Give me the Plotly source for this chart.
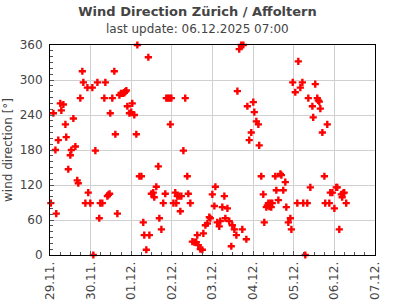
import pandas as pd
import plotly.graph_objects as go

# hours after 29.11.2025 00:00 and wind direction in degrees
hours = [0.5, 2.0, 3.2, 3.7, 4.9, 6.1, 6.7, 7.9, 9.1, 9.6, 10.8, 12.0, 12.6, 13.8, 15.0, 16.1, 16.7, 17.9,
         19.1, 19.7, 20.9, 22.1, 22.6, 23.8, 25.0, 25.6, 26.8, 28.0, 29.1, 29.7, 30.9, 32.1, 32.7, 33.9,
         34.5, 35.2, 35.6, 36.8, 38.0, 38.6, 39.8, 41.0, 41.9, 43.1, 43.9, 44.5, 45.1, 45.7, 46.9, 48.0,
         48.6, 49.8, 51.0, 51.6, 52.8, 54.0, 55.1, 55.7, 56.9, 58.1, 58.7, 59.9, 61.0, 61.6, 62.8, 64.0,
         64.6, 65.8, 66.9, 68.1, 68.7, 69.7, 70.7, 71.1, 71.7, 72.9, 74.0, 74.6, 75.2, 76.4, 77.0, 77.6,
         78.8, 79.9, 81.1, 81.7, 82.9, 84.1, 85.3, 86.4, 87.0, 87.6, 88.8, 90.0, 90.6, 91.8, 93.0, 94.1,
         94.7, 95.9, 97.1, 97.7, 98.8, 100.0, 100.6, 101.8, 103.0, 103.6, 104.8, 105.9, 107.1, 107.7,
         108.9, 110.1, 110.7, 111.8, 113.0, 113.6, 114.2, 116.0, 116.6, 117.7, 118.9, 120.1, 120.7,
         121.9, 123.1, 123.6, 124.8, 126.0, 126.6, 127.8, 128.4, 129.0, 129.6, 130.2, 130.7, 131.3,
         133.1, 133.7, 134.9, 136.1, 136.7, 137.8, 139.0, 139.6, 140.8, 142.0, 142.6, 143.4, 144.9,
         146.1, 146.7, 147.9, 149.1, 149.6, 150.8, 152.0, 152.6, 153.8, 155.0, 155.5, 156.7, 157.9,
         158.5, 159.1, 159.7, 160.9, 162.1, 162.6, 163.8, 165.0, 165.6, 166.8, 168.0, 169.1, 169.7,
         170.9, 172.1, 172.6, 173.2, 173.8, 175.0]
direction = [89, 243, 180, 71, 197, 260, 248, 258, 224, 202, 147, 171, 180, 234, 186, 128, 123, 269,
             315, 296, 89, 287, 107, 89, 287, 0, 179, 296, 63, 89, 89, 269, 296, 101,
             103, 105, 243, 269, 315, 207, 71, 274, 277, 277, 278, 280, 282, 255, 243, 245,
             260, 240, 207, 360, 135, 135, 56, 34, 9, 339, 34, 105, 107, 99, 117, 152,
             63, 44, 89, 105, 269, 269, 269, 224, 269, 89, 107, 89, 101, 101, 75, 101,
             179, 269, 135, 105, 89, 23, 22, 22, 34, 17, 10, 9, 37, 51, 54, 65,
             63, 104, 84, 117, 56, 49, 58, 82, 101, 63, 80, 58, 15, 51,
             44, 34, 281, 353, 360, 44, 360, 27, 255, 197, 210, 262, 245,
             229, 224, 188, 135, 104, 56, 82, 85, 89, 83, 89, 82, 89,
             135, 111, 94, 139, 137, 111, 125, 82, 56, 63, 44, 296, 279,
             89, 332, 287, 296, 89, 0, 89, 269, 116, 255, 236, 293, 269,
             265, 263, 251, 210, 135, 89, 224, 89, 107, 107, 80, 116, 116,
             44, 104, 99, 106, 107, 89]

start = pd.Timestamp("2025-11-29 00:00")
times = [start + pd.Timedelta(hours=h) for h in hours]

title = "Wind Direction Zürich / Affoltern"
subtitle = "last update: 06.12.2025 07:00"
y_title = "wind direction [°]"

font = "DejaVu Sans"
grey = "#444444"

fig = go.Figure(go.Scatter(
    x=times, y=direction, mode="markers",
    marker=dict(symbol="cross", size=6, color="#ff0000", line=dict(width=0)),
    cliponaxis=False, showlegend=False,
))

fig.update_layout(
    width=395, height=300,
    margin=dict(l=50, r=20, t=45, b=45, autoexpand=False),
    paper_bgcolor="white", plot_bgcolor="white",
    font=dict(family=font, size=12, color=grey),
    title=dict(text="<b>" + title + "</b>", x=0.5, xanchor="center",
               y=1 - 11 / 300, yanchor="middle", font=dict(size=13, color=grey, family=font)),
    annotations=[dict(text=subtitle, xref="paper", yref="paper", x=(197.5 - 50) / 325,
                      y=1 + 16 / 210, xanchor="center", yanchor="middle", showarrow=False,
                      font=dict(size=12, color=grey, family=font))],
)

fig.update_xaxes(
    type="date", range=["2025-11-29", "2025-12-07"], automargin=False,
    dtick=86400000, tickformat="%d.%m.", tickangle=-90, ticklabelstandoff=1,
    showgrid=True, gridcolor="#d0d0d0", gridwidth=1,
    showline=True, linecolor="black", linewidth=1, mirror=True,
    ticks="inside", ticklen=4, tickcolor="#555555",
    minor=dict(dtick=6 * 3600 * 1000, ticks="inside", ticklen=3, tickcolor="#555555", showgrid=False),
    zeroline=False, tickfont=dict(size=12, color=grey),
)
fig.update_yaxes(
    range=[0, 360], dtick=60, tick0=0, automargin=False, ticklabelstandoff=4,
    showgrid=True, gridcolor="#d0d0d0", gridwidth=1,
    showline=True, linecolor="black", linewidth=1, mirror=True,
    ticks="inside", ticklen=4, tickcolor="#555555",
    minor=dict(dtick=10, ticks="inside", ticklen=3, tickcolor="#555555", showgrid=False),
    zeroline=False, tickfont=dict(size=12, color=grey),
    title=dict(text=y_title, font=dict(size=12, color=grey), standoff=4),
)

fig.write_html("out.html")
